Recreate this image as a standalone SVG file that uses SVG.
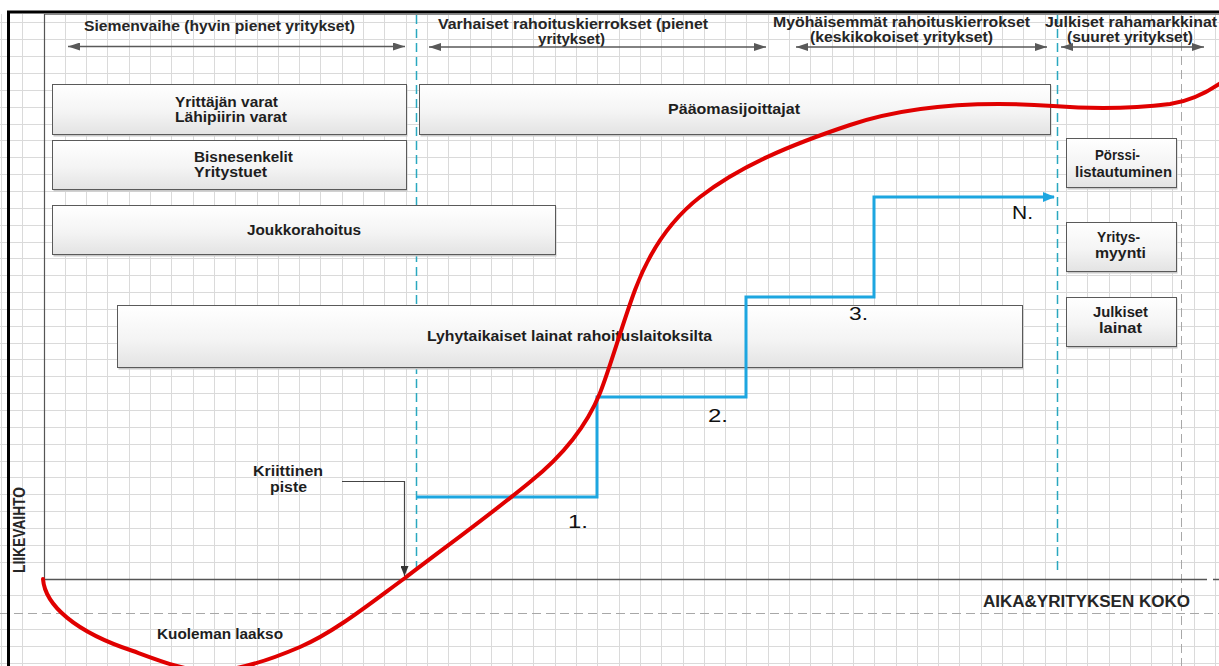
<svg xmlns="http://www.w3.org/2000/svg" width="1219" height="666" viewBox="0 0 1219 666">
<defs>
<linearGradient id="boxg" x1="0" y1="0" x2="0" y2="1">
<stop offset="0" stop-color="#ffffff"/>
<stop offset="0.55" stop-color="#f4f4f4"/>
<stop offset="1" stop-color="#e3e3e3"/>
</linearGradient>
<marker id="ah" viewBox="0 0 12 8" refX="12" refY="4" markerWidth="12" markerHeight="8" markerUnits="userSpaceOnUse" orient="auto-start-reverse">
<path d="M0,0 L12,4 L0,8 Z" fill="#595959"/>
</marker>
<marker id="ak" viewBox="0 0 8 10" refX="4" refY="10" markerWidth="8" markerHeight="10" markerUnits="userSpaceOnUse" orient="0">
<path d="M0,0 L8,0 L4,10 Z" fill="#333"/>
</marker>
<marker id="ab" viewBox="0 0 12 10" refX="11" refY="5" markerWidth="12" markerHeight="10" markerUnits="userSpaceOnUse" orient="auto">
<path d="M0,0 L12,5 L0,10 Z" fill="#1da6e0"/>
</marker>
</defs>
<style>
.grid{stroke:#dadada;stroke-width:1;fill:none}
.box{fill:url(#boxg);stroke:#5a5a5a;stroke-width:1}
.shadow{fill:#c8c8c8}
.t{font-family:"Liberation Sans",Arial,sans-serif;font-weight:bold;font-size:14.5px;fill:#1e1e1e}
.h{font-family:"Liberation Sans",Arial,sans-serif;font-weight:bold;font-size:14.5px;fill:#262626}
.big{font-size:16px}
.axis-y{font-size:17px}
.n{font-family:"Liberation Sans",Arial,sans-serif;font-size:19px;fill:#111}
.harrow{stroke:#595959;stroke-width:1.5;fill:none}
.cyan{stroke:#2aa8bf;stroke-width:1.5;stroke-dasharray:9,5;fill:none}
.gdash{stroke:#a8a8a8;stroke-width:1;stroke-dasharray:9,5;fill:none}
</style>
<rect x="0" y="0" width="1219" height="666" fill="#ffffff"/>
<g id="grid">
<path class="grid" d="M1.5,14V666M22.5,14V666M65.5,14V666M86.5,14V666M107.5,14V666M129.5,14V666M150.5,14V666M171.5,14V666M193.5,14V666M214.5,14V666M235.5,14V666M257.5,14V666M278.5,14V666M299.5,14V666M320.5,14V666M342.5,14V666M363.5,14V666M384.5,14V666M406.5,14V666M427.5,14V666M448.5,14V666M470.5,14V666M491.5,14V666M512.5,14V666M533.5,14V666M555.5,14V666M576.5,14V666M597.5,14V666M619.5,14V666M640.5,14V666M661.5,14V666M683.5,14V666M704.5,14V666M725.5,14V666M746.5,14V666M768.5,14V666M789.5,14V666M810.5,14V666M832.5,14V666M853.5,14V666M874.5,14V666M896.5,14V666M917.5,14V666M938.5,14V666M959.5,14V666M981.5,14V666M1002.5,14V666M1023.5,14V666M1045.5,14V666M1066.5,14V666M1087.5,14V666M1109.5,14V666M1130.5,14V666M1151.5,14V666M1172.5,14V666M1194.5,14V666M1215.5,14V666"/>
<path class="grid" d="M0,22.5H1219M0,39.5H1219M0,56.5H1219M0,73.5H1219M0,90.5H1219M0,107.5H1219M0,124.5H1219M0,140.5H1219M0,157.5H1219M0,174.5H1219M0,191.5H1219M0,208.5H1219M0,225.5H1219M0,242.5H1219M0,258.5H1219M0,275.5H1219M0,292.5H1219M0,309.5H1219M0,326.5H1219M0,343.5H1219M0,359.5H1219M0,376.5H1219M0,393.5H1219M0,410.5H1219M0,427.5H1219M0,444.5H1219M0,461.5H1219M0,477.5H1219M0,494.5H1219M0,511.5H1219M0,528.5H1219M0,545.5H1219M0,562.5H1219M0,595.5H1219M0,629.5H1219M0,646.5H1219M0,663.5H1219"/>
<path class="gdash" d="M0,613.5H1219M1181.5,14V666"/>
</g>
<g id="frame">
<path d="M7,12H1219M8.5,11V666" stroke="#000" stroke-width="3" fill="none"/>
<path d="M44,14.5H1219" stroke="#8a8a8a" stroke-width="1" fill="none"/>
<path d="M44.5,14V579.5" stroke="#555" stroke-width="1.2" fill="none"/>
<path d="M44,579.5H1207M1213,579.5H1219" stroke="#555" stroke-width="1.5" fill="none"/>
</g>
<g id="phase-lines">
<path class="cyan" d="M416.5,15V575"/>
<path class="cyan" d="M1057.5,15V570"/>
</g>
<g id="phase-seed">
<text class="h" x="84" y="31" textLength="271" lengthAdjust="spacingAndGlyphs">Siemenvaihe (hyvin pienet yritykset)</text>
<path class="harrow" d="M68,46.5H405" marker-start="url(#ah)" marker-end="url(#ah)"/>
</g>
<g id="phase-early">
<text class="h" x="438" y="28.5" textLength="270" lengthAdjust="spacingAndGlyphs">Varhaiset rahoituskierrokset (pienet</text>
<text class="h" x="538" y="43.5" textLength="67" lengthAdjust="spacingAndGlyphs">yritykset)</text>
<path class="harrow" d="M429,47H766" marker-start="url(#ah)" marker-end="url(#ah)"/>
</g>
<g id="phase-later">
<text class="h" x="773" y="26.5" textLength="257" lengthAdjust="spacingAndGlyphs">Myöhäisemmät rahoituskierrokset</text>
<text class="h" x="810" y="41.5" textLength="183" lengthAdjust="spacingAndGlyphs">(keskikokoiset yritykset)</text>
<path class="harrow" d="M796,47H1047" marker-start="url(#ah)" marker-end="url(#ah)"/>
</g>
<g id="phase-public">
<text class="h" x="1045" y="26.5" textLength="172" lengthAdjust="spacingAndGlyphs">Julkiset rahamarkkinat</text>
<text class="h" x="1067" y="41.5" textLength="126" lengthAdjust="spacingAndGlyphs">(suuret yritykset)</text>
<path class="harrow" d="M1061,47H1204" marker-start="url(#ah)" marker-end="url(#ah)"/>
</g>
<g id="box-yrittajan">
<rect class="shadow" x="53.5" y="85.5" width="354" height="51"/>
<rect class="box" x="52.5" y="84.5" width="354" height="50"/>
<text class="t" x="175" y="106.5" textLength="103" lengthAdjust="spacingAndGlyphs">Yrittäjän varat</text>
<text class="t" x="175" y="122" textLength="112" lengthAdjust="spacingAndGlyphs">Lähipiirin varat</text>
</g>
<g id="box-bisnesenkelit">
<rect class="shadow" x="53.5" y="141.5" width="354" height="50"/>
<rect class="box" x="52.5" y="140.5" width="354" height="49"/>
<text class="t" x="194" y="161.5" textLength="99" lengthAdjust="spacingAndGlyphs">Bisnesenkelit</text>
<text class="t" x="194" y="177" textLength="73" lengthAdjust="spacingAndGlyphs">Yritystuet</text>
</g>
<g id="box-joukkorahoitus">
<rect class="shadow" x="53.5" y="206.5" width="503" height="50"/>
<rect class="box" x="52.5" y="205.5" width="503" height="49"/>
<text class="t" x="247" y="234.5" textLength="114" lengthAdjust="spacingAndGlyphs">Joukkorahoitus</text>
</g>
<g id="box-lyhytaikaiset">
<rect class="shadow" x="118.5" y="306.5" width="905" height="63"/>
<rect class="box" x="117.5" y="305.5" width="905" height="62"/>
<text class="t" x="427" y="341" textLength="285" lengthAdjust="spacingAndGlyphs">Lyhytaikaiset lainat rahoituslaitoksilta</text>
</g>
<g id="box-paaomasijoittajat">
<rect class="shadow" x="420.5" y="85.5" width="631" height="51"/>
<rect class="box" x="419.5" y="84.5" width="631" height="50"/>
<text class="t" x="668" y="114" textLength="132" lengthAdjust="spacingAndGlyphs">Pääomasijoittajat</text>
</g>
<g id="box-porssi">
<rect class="shadow" x="1067.5" y="139.5" width="110" height="50"/>
<rect class="box" x="1066.5" y="138.5" width="110" height="49"/>
<text class="t" x="1095" y="160" textLength="45" lengthAdjust="spacingAndGlyphs">Pörssi-</text>
<text class="t" x="1075" y="177" textLength="97" lengthAdjust="spacingAndGlyphs">listautuminen</text>
</g>
<g id="box-yritysmyynti">
<rect class="shadow" x="1067.5" y="223.5" width="110" height="50"/>
<rect class="box" x="1066.5" y="222.5" width="110" height="49"/>
<text class="t" x="1097" y="242" textLength="43" lengthAdjust="spacingAndGlyphs">Yritys-</text>
<text class="t" x="1095" y="258" textLength="51" lengthAdjust="spacingAndGlyphs">myynti</text>
</g>
<g id="box-julkiset-lainat">
<rect class="shadow" x="1067.5" y="298.5" width="110" height="50"/>
<rect class="box" x="1066.5" y="297.5" width="110" height="49"/>
<text class="t" x="1093" y="317" textLength="55" lengthAdjust="spacingAndGlyphs">Julkiset</text>
<text class="t" x="1099" y="333" textLength="43" lengthAdjust="spacingAndGlyphs">lainat</text>
</g>
<g id="connectors">
<path d="M342,481.5H404.5V576" stroke="#444" stroke-width="1.2" fill="none" marker-end="url(#ak)"/>
<path d="M416.5,497H597V397H746V297H874V197H1054" stroke="#1da6e0" stroke-width="3" fill="none" stroke-linejoin="miter" marker-end="url(#ab)"/>
</g>
<g id="revenue-curve">
<path d="M43,579 C45,605 75,632 133,651 C160,661 185,671 210,671 C235,671 265,662 300,647 C335,632 372,602 405,578 C440,551 490,515 530,482 C560,458 585,430 600,393 C610,368 622,325 635,290 C648,255 668,222 700,197 C740,166 790,145 850,125 C910,105 980,101 1053,106 C1090,109 1130,109 1170,104 C1190,101 1205,94 1222,82" stroke="#e00000" stroke-width="4" fill="none" stroke-linecap="round"/>
</g>
<g id="labels">
<text class="t" x="253" y="476" textLength="70" lengthAdjust="spacingAndGlyphs">Kriittinen</text>
<text class="t" x="270" y="492" textLength="37" lengthAdjust="spacingAndGlyphs">piste</text>
<text class="t" x="157" y="639" textLength="126" lengthAdjust="spacingAndGlyphs">Kuoleman laakso</text>
<text class="h big" x="983" y="607" textLength="207" lengthAdjust="spacingAndGlyphs">AIKA&amp;YRITYKSEN KOKO</text>
<text class="h axis-y" transform="translate(25,573) rotate(-90)" x="0" y="0" textLength="86" lengthAdjust="spacingAndGlyphs">LIIKEVAIHTO</text>
<text class="n" x="568" y="528" textLength="20" lengthAdjust="spacingAndGlyphs">1.</text>
<text class="n" x="708" y="422" textLength="20" lengthAdjust="spacingAndGlyphs">2.</text>
<text class="n" x="849" y="320" textLength="19" lengthAdjust="spacingAndGlyphs">3.</text>
<text class="n" x="1012" y="219" textLength="21" lengthAdjust="spacingAndGlyphs">N.</text>
</g>
</svg>
